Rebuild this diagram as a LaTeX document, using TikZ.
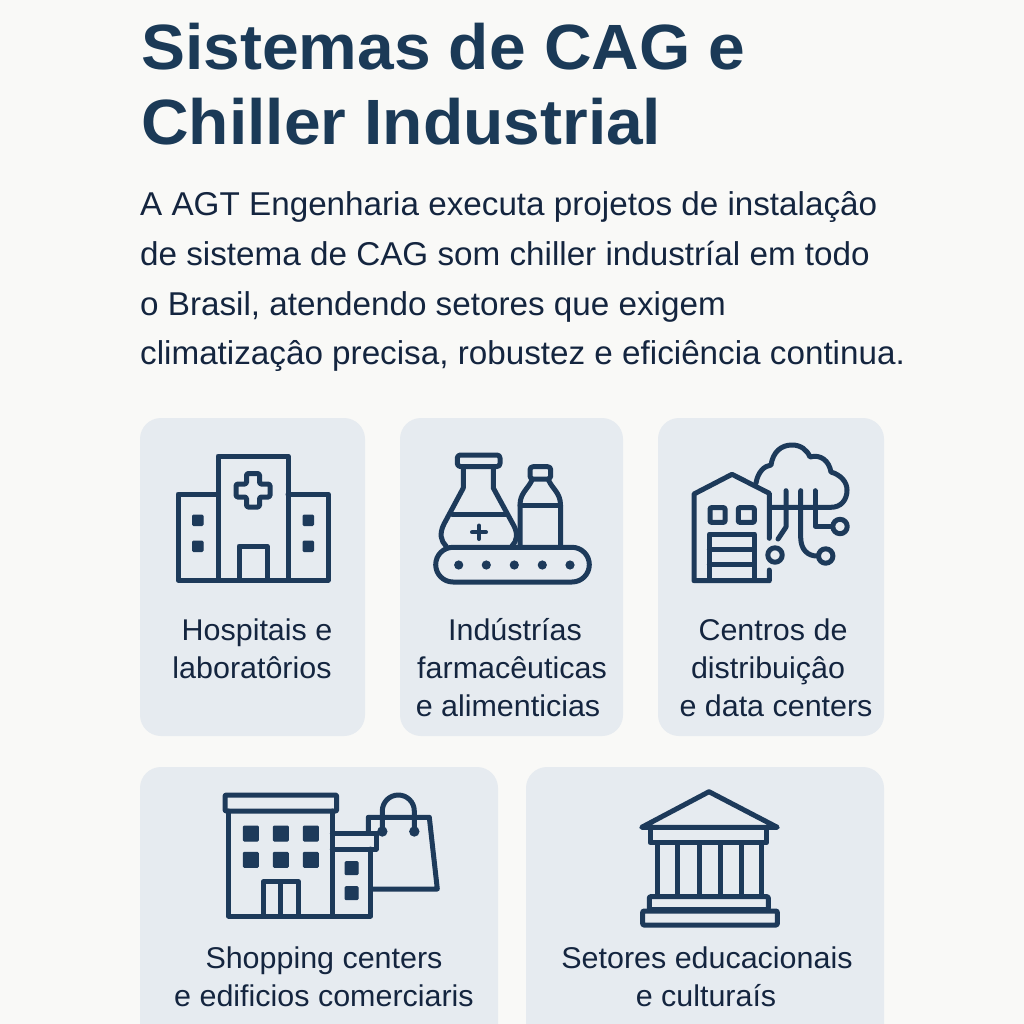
\documentclass[tikz,border=0pt]{standalone}
\usepackage{fontspec}
\setmainfont{Liberation Sans}
\newfontfamily\bodyf{Liberation Sans}[FakeStretch=1.007]
\newfontfamily\labf{Liberation Sans}[FakeStretch=1.015]
\newfontfamily\titlef{Liberation Sans}[FakeStretch=1.03,BoldFont={Liberation Sans Bold}]
\definecolor{bgc}{HTML}{F9F9F7}
\definecolor{cardc}{HTML}{E6EBF0}
\definecolor{ink}{HTML}{1D3A5A}
\definecolor{titlec}{HTML}{1B3A57}
\definecolor{textc}{HTML}{14253F}
\tikzset{
  card/.style={fill=cardc,rounded corners=21pt},
  ic/.style={draw=ink,line width=5pt,line join=round,line cap=round},
  win/.style={fill=ink,draw=ink,line width=1pt,rounded corners=1pt},
  titletxt/.style={anchor=base west,inner sep=0pt,text=titlec,font=\titlef\bfseries\fontsize{64}{64}\selectfont},
  bodytxt/.style={anchor=base west,inner sep=0pt,text=textc,font=\bodyf\fontsize{33}{33}\selectfont},
  labtxt/.style={anchor=base,inner sep=0pt,text=textc,font=\labf\fontsize{30}{30}\selectfont},
}
\begin{document}
\begin{tikzpicture}[x=1pt,y=-1pt]
\useasboundingbox (0,0) rectangle (1024,1024);
\clip (0,0) rectangle (1024,1024);
\fill[bgc] (0,0) rectangle (1024,1024);
% title
\node[titletxt] (t1) at (141,70) {Sistemas de CAG e};
\node[titletxt] (t2) at (141,145) {Chiller Industrial};
% body
\node[bodytxt] (b1) at (140,216) {A AGT Engenharia executa projetos de instalaçâo};
\node[bodytxt] (b2) at (140,265.5) {de sistema de CAG som chiller industríal em todo};
\node[bodytxt] (b3) at (140,315) {o Brasil, atendendo setores que exigem};
\node[bodytxt] (b4) at (140,364.5) {climatizaçâo precisa, robustez e eficiência continua.};
% cards
\fill[card] (140,418) rectangle (365,736);
\fill[card] (400,418) rectangle (623,736);
\fill[card] (658,418) rectangle (884,736);
\fill[card] (140,767) rectangle (498,1060);
\fill[card] (526,767) rectangle (884,1060);
% labels
\node[labtxt] (l1a) at (257,640) {Hospitais e};
\node[labtxt] (l1b) at (252,678) {laboratôrios};
\node[labtxt] (l2a) at (515,640) {Indústrías};
\node[labtxt] (l2b) at (512,678) {farmacêuticas};
\node[labtxt] (l2c) at (508,716) {e alimenticias};
\node[labtxt] (l3a) at (773,640) {Centros de};
\node[labtxt] (l3b) at (768,678) {distribuiçâo};
\node[labtxt] (l3c) at (776,716) {e data centers};
\node[labtxt] (l4a) at (324,968) {Shopping centers};
\node[labtxt] (l4b) at (324,1006) {e edificios comerciaris};
\node[labtxt] (l5a) at (707,968) {Setores educacionais};
\node[labtxt] (l5b) at (706,1006) {e culturaís};
% icon 1: hospital
\draw[ic,line cap=butt] (218,580) -- (218,456) -- (288,456) -- (288,580);
\draw[ic] (218,494) -- (178,494) -- (178,580) -- (328,580) -- (328,494) -- (288,494);
\draw[ic,line cap=butt] (239,580) -- (239,546) -- (267,546) -- (267,580);
\draw[ic,rounded corners=1.5pt] (246.5,473.5) -- (259.5,473.5) -- (259.5,484) -- (270,484) -- (270,497) -- (259.5,497) -- (259.5,507) -- (246.5,507) -- (246.5,497) -- (236,497) -- (236,484) -- (246.5,484) -- cycle;
\draw[win] (192.5,515) rectangle (203,525.5);
\draw[win] (192.5,541) rectangle (203,551.5);
\draw[win] (303,515) rectangle (313.5,525.5);
\draw[win] (303,541) rectangle (313.5,551.5);
% icon 2: flask and bottle on conveyor
\draw[ic,rounded corners=17.3pt] (435.7,547.3) rectangle (589.3,582);
\foreach \px in {458.7,486.3,514.3,542.3,570} \fill[ink] (\px,565) circle (4.6);
\draw[ic,rounded corners=3pt] (457.3,455) rectangle (500,466.5);
\draw[ic] (463.3,466.5) -- (463.3,488) -- (444,524) .. controls (439,534) and (441,541) .. (446,546);
\draw[ic] (493.3,466.5) -- (493.3,488) -- (514,526) .. controls (518,534) and (517,541) .. (512,546);
\draw[ic] (452,514) -- (506,514);
\draw[ic,line width=4pt] (479,525.5) -- (479,539) (472,532.3) -- (486,532.3);
\draw[ic,rounded corners=3pt] (530,466.7) rectangle (550.7,479);
\draw[ic] (520,545) -- (520,505) .. controls (520,493) and (528,489) .. (532,480);
\draw[ic] (560.5,545) -- (560.5,505) .. controls (560.5,493) and (552.5,489) .. (548.5,480);
\draw[ic] (520,505) -- (560.5,505);
% icon 3: warehouse and cloud
\draw[ic] (769.3,538.3) -- (769.3,493.3) -- (732,474.3) -- (694,494) -- (694,580.7) -- (769.3,580.7) -- (769.3,570);
\draw[ic,rounded corners=1pt] (710,507.7) rectangle (725,522.3);
\draw[ic,rounded corners=1pt] (738.3,507.7) rectangle (754.3,522.3);
\draw[ic,line cap=butt] (709.3,580.7) -- (709.3,534) -- (754.3,534) -- (754.3,580.7);
\draw[ic] (709.3,549.3) -- (754.3,549.3) (709.3,564.3) -- (754.3,564.3);
\draw[ic] (756,483) .. controls (758,472) and (764,466) .. (771,465)
  .. controls (773,452) and (781,445) .. (792,445)
  .. controls (801,445) and (807,450) .. (810,457)
  .. controls (821,454) and (829,461) .. (831,472)
  .. controls (841,475) and (847,482) .. (847,490)
  .. controls (847,500) and (841,507.3) .. (831,507.3) -- (770,507.3);
\draw[ic] (786,490.7) -- (786,527) -- (778,539);
\draw[ic] (800.7,490.7) -- (800.7,538) .. controls (801,550) and (808,556) .. (817,556);
\draw[ic] (815,490.7) -- (815,526) -- (832,526);
\draw[ic] (775,555) circle (7.2);
\draw[ic] (825.7,556) circle (7.2);
\draw[ic] (840,526.5) circle (7.2);
% icon 4: building and bag
\draw[ic,rounded corners=1pt] (225,795) rectangle (336.7,811);
\draw[ic] (228.3,811) -- (228.3,916) -- (370.7,916) -- (370.7,849);
\draw[ic] (332.3,811) -- (332.3,916);
\foreach \wx in {243.3,273.3,303.3} \foreach \wy in {826,852.3} \draw[win] (\wx,\wy) rectangle +(15,15);
\draw[ic,line cap=butt] (263.3,916) -- (263.3,881.7) -- (298.3,881.7) -- (298.3,916);
\draw[ic,line cap=butt] (280.5,884) -- (280.5,916);
\draw[ic] (332.3,833.3) -- (376,833.3) -- (376,849) -- (332.3,849);
\draw[win] (345,861.7) rectangle +(13,13);
\draw[win] (345,886.7) rectangle +(13,13);
\draw[ic] (368.3,832) -- (368.3,817.3) -- (429.3,817.3) -- (437.3,889) -- (372.7,889);
\draw[ic] (382.3,831.7) -- (382.3,811) arc[start angle=180,end angle=360,radius=16] -- (414.3,831.7);
\fill[ink] (382.3,831.5) circle (5.2);
\fill[ink] (414.3,831.5) circle (5.2);
% icon 5: temple
\draw[ic] (709,791.7) -- (641.7,827.3) -- (777.3,827.3) -- cycle;
\draw[ic] (650,827.3) -- (650,842.7) -- (766.7,842.7) -- (766.7,827.3);
\foreach \cx in {657.3,677.7,699.3,720.7,741,761.7} \draw[ic,line cap=butt] (\cx,842.7) -- (\cx,897);
\draw[ic,rounded corners=1pt] (649.3,896.7) rectangle (768.3,909.5);
\draw[ic,rounded corners=1pt] (642.7,911) rectangle (777.3,925);
\end{tikzpicture}
\end{document}
